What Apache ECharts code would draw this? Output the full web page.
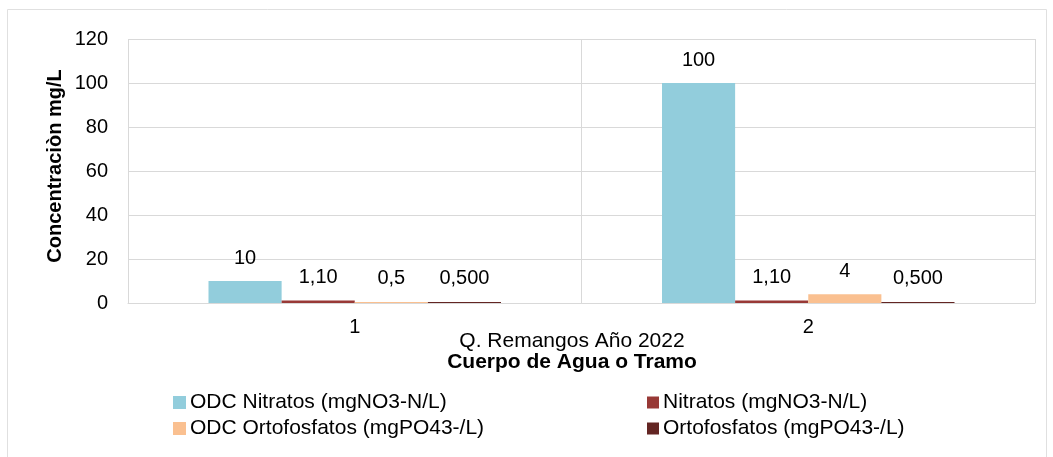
<!DOCTYPE html>
<html>
<head>
<meta charset="utf-8">
<script src="https://cdn.jsdelivr.net/npm/echarts@6/dist/echarts.min.js"></script>
<style>
    html, body { margin: 0; padding: 0; background: #fff; }
    #chart { width: 1053px; height: 457px; }
</style>
</head>
<body>
<div id="chart"></div>
<script>
// data
var categories = ['1', '2'];
var seriesNames = ['ODC Nitratos (mgNO3-N/L)', 'Nitratos (mgNO3-N/L)', 'ODC Ortofosfatos (mgPO43-/L)', 'Ortofosfatos (mgPO43-/L)'];
var odcNitratos = [10, 100];
var nitratos = [1.1, 1.1];
var odcOrtofosfatos = [0.5, 4];
var ortofosfatos = [0.5, 0.5];
var labelTexts = [['10', '100'], ['1,10', '1,10'], ['0,5', '4'], ['0,500', '0,500']];
var yTicks = [0, 20, 40, 60, 80, 100, 120];

var colors = ['#92CDDC', '#983936', '#FAC090', '#632523'];
var fontFam = '"Liberation Sans", Arial, sans-serif';

function drawChart() {
    var dom = document.getElementById('chart');
    var myChart = echarts.init(dom);
    var values = [odcNitratos, nitratos, odcOrtofosfatos, ortofosfatos];
    var series = [];
    for (var i = 0; i < values.length; i++) {
        (function (idx) {
            series.push({
                name: seriesNames[idx],
                type: 'bar',
                barGap: '0%',
                barCategoryGap: '35.5%',
                itemStyle: { color: colors[idx] },
                label: {
                    show: true,
                    position: 'top',
                    distance: 13,
                    color: '#000',
                    fontSize: 20,
                    fontFamily: fontFam,
                    formatter: function (p) {
                        return labelTexts[idx][p.dataIndex];
                    }
                },
                data: values[idx]
            });
        })(i);
    }
    var legendText = { fontSize: 21, color: '#000', fontFamily: fontFam, padding: [0, 0, 0, -1] };
    var option = {
        animation: false,
        backgroundColor: '#fff',
        color: colors,
        textStyle: { fontFamily: fontFam },
        grid: { left: 128, right: 18, top: 39, bottom: 154 },
        graphic: [
            {
                type: 'rect',
                shape: { x: 7.5, y: 9.5, width: 1039, height: 460 },
                style: { fill: 'none', stroke: '#e0e0e0', lineWidth: 1 },
                silent: true
            },
            {
                type: 'text',
                x: 55,
                y: 166,
                rotation: Math.PI / 2,
                style: {
                    text: 'Concentraciòn mg/L', fontSize: 20, fontWeight: 'bold', fontFamily: fontFam,
                    fill: '#000', align: 'center', verticalAlign: 'middle'
                }
            },
            {
                type: 'text',
                x: 572,
                y: 341,
                style: { text: 'Q. Remangos Año 2022', fontSize: 21, fontFamily: fontFam, fill: '#000', align: 'center', verticalAlign: 'middle' }
            },
            {
                type: 'text',
                x: 572,
                y: 362,
                style: { text: 'Cuerpo de Agua o Tramo', fontSize: 21, fontWeight: 'bold', fontFamily: fontFam, fill: '#000', align: 'center', verticalAlign: 'middle' }
            }
        ],
        legend: [
            {
                orient: 'vertical',
                left: 168,
                top: 387,
                itemWidth: 13,
                itemHeight: 13,
                itemGap: 5,
                icon: 'rect',
                textStyle: legendText,
                data: [seriesNames[0], seriesNames[2]]
            },
            {
                orient: 'vertical',
                left: 642,
                top: 387,
                itemWidth: 12,
                itemHeight: 12,
                itemGap: 5,
                icon: 'rect',
                textStyle: legendText,
                data: [seriesNames[1], seriesNames[3]]
            }
        ],
        xAxis: {
            type: 'category',
            data: categories,
            axisLine: { show: true, lineStyle: { color: '#d9d9d9' } },
            axisTick: { show: false },
            axisLabel: { color: '#000', fontSize: 20, margin: 14, fontFamily: fontFam },
            splitLine: { show: true, lineStyle: { color: '#d9d9d9' } }
        },
        yAxis: {
            type: 'value',
            min: yTicks[0],
            max: yTicks[yTicks.length - 1],
            interval: 20,
            axisLine: { show: false },
            axisTick: { show: false },
            axisLabel: { color: '#000', fontSize: 20, margin: 20, fontFamily: fontFam },
            splitLine: { lineStyle: { color: '#d9d9d9' } }
        },
        series: series
    };
    myChart.setOption(option, true);
}
drawChart();
</script>
</body>
</html>
